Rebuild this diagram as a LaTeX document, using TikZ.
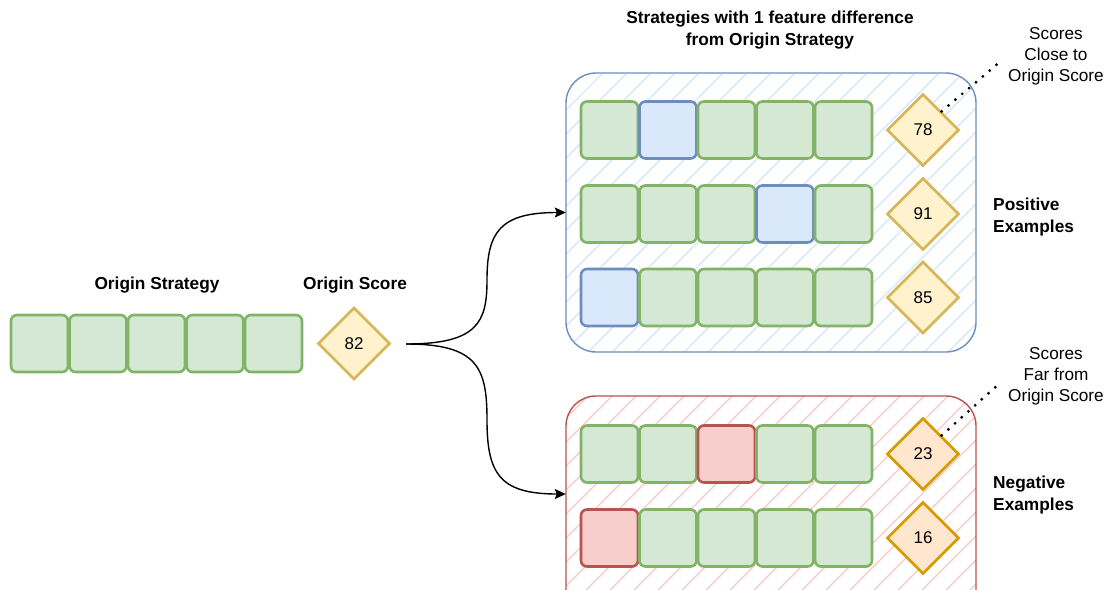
\documentclass[tikz,border=0pt]{standalone}
\usepackage{fontspec}
\setmainfont{Liberation Sans}
\usetikzlibrary{shapes.geometric,arrows.meta}
\definecolor{gfill}{HTML}{D5E8D4}
\definecolor{gline}{HTML}{82B366}
\definecolor{bfill}{HTML}{DAE8FC}
\definecolor{bline}{HTML}{6C8EBF}
\definecolor{rfill}{HTML}{F8CECC}
\definecolor{rline}{HTML}{B85450}
\definecolor{yfill}{HTML}{FFF2CC}
\definecolor{yline}{HTML}{D6B656}
\definecolor{ofill}{HTML}{FFE6CC}
\definecolor{oline}{HTML}{D79B00}
\begin{document}
\begin{tikzpicture}[x=1pt,y=-1pt,
  cellbase/.style={line width=2.6pt, rounded corners=6pt, minimum width=57pt, minimum height=57pt, inner sep=0pt},
  gcell/.style={cellbase, draw=gline, fill=gfill},
  bcell/.style={cellbase, draw=bline, fill=bfill},
  rcell/.style={cellbase, draw=rline, fill=rfill},
  dia/.style={diamond, line width=2.6pt, minimum width=72pt, minimum height=72pt, inner sep=0pt, font=\fontsize{17}{20}\selectfont},
  ydia/.style={dia, draw=yline, fill=yfill},
  odia/.style={dia, draw=oline, fill=ofill},
  lbl/.style={font=\fontsize{17.2}{21}\selectfont, align=center, inner sep=0pt},
  blbl/.style={font=\bfseries\fontsize{17.3}{22}\selectfont, inner sep=0pt},
  conn/.style={line width=1.4pt, -{Stealth[length=11pt,width=10pt,inset=2pt]}},
  dots/.style={line width=3.2pt, line cap=round, dash pattern=on 0pt off 9pt},
  hatchb/.style={line width=1.4pt, draw=bfill},
  hatchr/.style={line width=1.4pt, draw=rfill}
]
\clip (0,0) rectangle (1105,589);
\fill[white] (0,0) rectangle (1105,589);

% containers
\node[draw=none, fill=white, rounded corners=30pt, minimum width=410pt, minimum height=279pt, inner sep=0pt] (posbox) at (771,212.5) {};
\begin{scope}
  \clip[rounded corners=30pt] (566,73) rectangle (976,352);
  \foreach \i in {-300,-276,...,1000} \draw[hatchb] (\i,352) -- ++(279,-279);
\end{scope}
\draw[bline, line width=1.4pt, rounded corners=30pt] (566,73) rectangle (976,352);

\node[draw=none, fill=white, rounded corners=30pt, minimum width=410pt, minimum height=240pt, inner sep=0pt] (negbox) at (771,516) {};
\begin{scope}
  \clip[rounded corners=30pt] (566,396) rectangle (976,636);
  \foreach \i in {-300,-276,...,1000} \draw[hatchr] (\i,636) -- ++(240,-240);
\end{scope}
\draw[rline, line width=1.4pt, rounded corners=30pt] (566,396) rectangle (976,636);

% origin strategy
\node[gcell] (o1) at (39.5,343.5) {};
\node[gcell] (o2) at (98,343.5) {};
\node[gcell] (o3) at (156.5,343.5) {};
\node[gcell] (o4) at (215,343.5) {};
\node[gcell] (o5) at (273.5,343.5) {};
\node[ydia] (os) at (354,343.5) {82};
\node[blbl] (ostl) at (157,285) {Origin Strategy};
\node[blbl] (oscl) at (355,285) {Origin Score};

% positive rows
\node[gcell] (a1) at (609.5,130) {};
\node[bcell] (a2) at (668,130) {};
\node[gcell] (a3) at (726.5,130) {};
\node[gcell] (a4) at (785,130) {};
\node[gcell] (a5) at (843.5,130) {};
\node[ydia] (as) at (923,130) {78};

\node[gcell] (b1) at (609.5,214) {};
\node[gcell] (b2) at (668,214) {};
\node[gcell] (b3) at (726.5,214) {};
\node[bcell] (b4) at (785,214) {};
\node[gcell] (b5) at (843.5,214) {};
\node[ydia] (bs) at (923,214) {91};

\node[bcell] (c1) at (609.5,297.5) {};
\node[gcell] (c2) at (668,297.5) {};
\node[gcell] (c3) at (726.5,297.5) {};
\node[gcell] (c4) at (785,297.5) {};
\node[gcell] (c5) at (843.5,297.5) {};
\node[ydia] (cs) at (923,297.5) {85};

% negative rows
\node[gcell] (d1) at (609.5,454) {};
\node[gcell] (d2) at (668,454) {};
\node[rcell] (d3) at (726.5,454) {};
\node[gcell] (d4) at (785,454) {};
\node[gcell] (d5) at (843.5,454) {};
\node[odia] (ds) at (923,454) {23};

\node[rcell] (e1) at (609.5,538) {};
\node[gcell] (e2) at (668,538) {};
\node[gcell] (e3) at (726.5,538) {};
\node[gcell] (e4) at (785,538) {};
\node[gcell] (e5) at (843.5,538) {};
\node[odia] (es) at (923,538) {16};

% labels
\node[blbl, align=center] (title) at (770,30) {Strategies with 1 feature difference\\from Origin Strategy};
\node[blbl, align=left, anchor=west] (posl) at (993,217) {Positive\\Examples};
\node[blbl, align=left, anchor=west] (negl) at (993,495) {Negative\\Examples};
\node[lbl] (closel) at (1056,56) {Scores\\Close to\\Origin Score};
\node[lbl] (farl) at (1056,376) {Scores\\Far from\\Origin Score};

% dotted leaders
\coordinate (closeend) at (1001,61);
\coordinate (farend) at (1001,382);
\draw[dots] (as.north east) -- (closeend);
\draw[dots] (ds.north east) -- (farend);

% connectors
\coordinate (start) at (406,344);
\draw[conn] (start) .. controls (478,344) and (487,322) .. (487,280) .. controls (487,232) and (500,212.5) .. (posbox.west);
\draw[conn] (start) .. controls (478,344) and (487,368) .. (487,420) .. controls (487,474) and (500,494) .. ([yshift=22pt]negbox.west);
\end{tikzpicture}
\end{document}
